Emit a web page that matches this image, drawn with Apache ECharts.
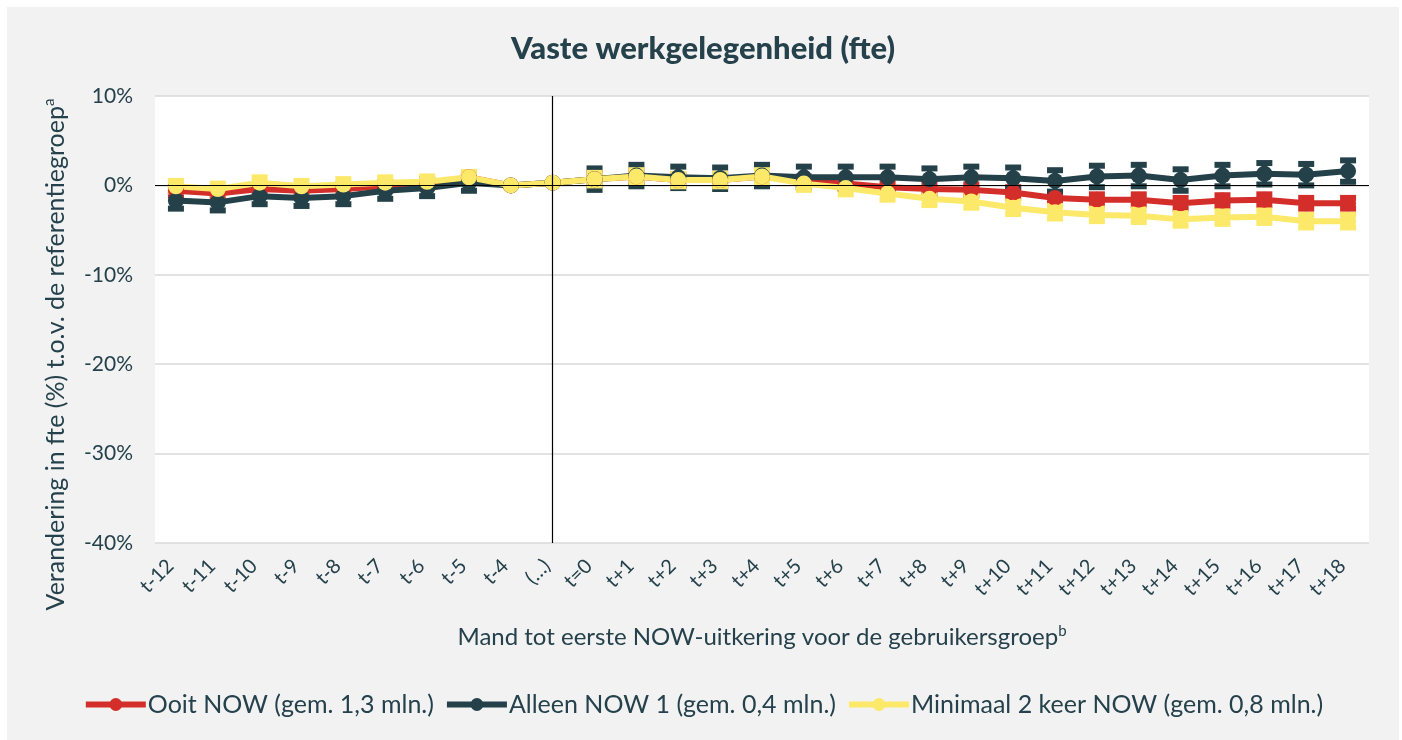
<!DOCTYPE html>
<html>
<head>
<meta charset="utf-8">
<script src="https://cdn.jsdelivr.net/npm/echarts@6/dist/echarts.min.js"></script>
<style>
  html, body { margin: 0; padding: 0; background: #ffffff; }
  #main { position: absolute; left: 7px; top: 7px; width: 1392px; height: 733px; background: #f2f2f2; }
</style>
</head>
<body>
<div id="main"></div>
<script>
// categorieën op de x-as
var maanden = ['t-12', 't-11', 't-10', 't-9', 't-8', 't-7', 't-6', 't-5', 't-4', '(\u2026)',
    't=0', 't+1', 't+2', 't+3', 't+4', 't+5', 't+6', 't+7', 't+8', 't+9', 't+10',
    't+11', 't+12', 't+13', 't+14', 't+15', 't+16', 't+17', 't+18'];

// verandering in fte (%) per groep
var ooitNow = [-0.6, -0.9, -0.4, -0.6, -0.4, -0.1, 0.2, 0.9, 0.0, 0.3,
    0.7, 1.0, 0.6, 0.6, 1.0, 0.4, 0.2, -0.2, -0.4, -0.5, -0.8,
    -1.4, -1.6, -1.6, -2.0, -1.7, -1.6, -2.0, -2.0];
var alleenNow1 = [-1.7, -1.9, -1.2, -1.4, -1.2, -0.6, -0.3, 0.3, 0.0, 0.3,
    0.7, 1.1, 0.9, 0.8, 1.1, 0.9, 0.9, 0.9, 0.7, 0.9, 0.8,
    0.5, 1.0, 1.1, 0.6, 1.1, 1.3, 1.2, 1.6];
var minimaal2 = [-0.1, -0.4, 0.3, -0.1, 0.1, 0.3, 0.4, 0.9, 0.0, 0.3,
    0.7, 1.0, 0.6, 0.6, 1.0, 0.2, -0.3, -0.9, -1.5, -1.8, -2.5,
    -3.0, -3.3, -3.4, -3.8, -3.6, -3.5, -4.0, -4.0];

// foutmarges (halve breedte van de foutbalk, in %-punt)
var margeOoit = [0.5, 0.5, 0.5, 0.5, 0.5, 0.5, 0.5, 0.5, 0, 0,
    0.6, 0.6, 0.6, 0.6, 0.6, 0.6, 0.6, 0.6, 0.6, 0.6, 0.6,
    0.6, 0.6, 0.6, 0.6, 0.6, 0.6, 0.6, 0.6];
var margeAlleen = [0.9, 0.9, 0.9, 0.9, 0.9, 0.9, 0.9, 0.9, 0, 0,
    1.2, 1.2, 1.2, 1.2, 1.2, 1.2, 1.2, 1.2, 1.2, 1.2, 1.2,
    1.2, 1.2, 1.2, 1.2, 1.2, 1.2, 1.2, 1.2];
var margeMinimaal = [0.6, 0.6, 0.6, 0.6, 0.6, 0.6, 0.6, 0.6, 0, 0,
    0.7, 0.7, 0.7, 0.7, 0.7, 0.7, 0.7, 0.7, 0.7, 0.7, 0.7,
    0.7, 0.7, 0.7, 0.7, 0.7, 0.7, 0.7, 0.7];

var tekstKleur = '#25414b';
var font = 'Lato, "Noto Sans", sans-serif';

function foutData(waarden, marge) {
    var out = [];
    for (var i = 0; i < waarden.length; i++) {
        if (marge[i] > 0) out.push([i, waarden[i] - marge[i], waarden[i] + marge[i]]);
    }
    return out;
}

function foutBalk(kleur) {
    return function (params, api) {
        var x = api.value(0);
        var lo = api.coord([x, api.value(1)]);
        var hi = api.coord([x, api.value(2)]);
        var w = 8;
        return {
            type: 'group',
            children: [
                { type: 'line', shape: { x1: lo[0], y1: lo[1], x2: hi[0], y2: hi[1] }, style: { stroke: kleur, lineWidth: 5 } },
                { type: 'line', shape: { x1: lo[0] - w, y1: lo[1], x2: lo[0] + w, y2: lo[1] }, style: { stroke: kleur, lineWidth: 6 } },
                { type: 'line', shape: { x1: hi[0] - w, y1: hi[1], x2: hi[0] + w, y2: hi[1] }, style: { stroke: kleur, lineWidth: 6 } }
            ]
        };
    };
}

function lijn(naam, data, kleur) {
    return {
        name: naam,
        type: 'line',
        data: data,
        color: kleur,
        symbol: 'circle',
        symbolSize: 16,
        lineStyle: { width: 6, color: kleur },
        itemStyle: { color: kleur },
        z: 3
    };
}

function fout(data, marge, kleur) {
    return {
        type: 'custom',
        renderItem: foutBalk(kleur),
        data: foutData(data, marge),
        encode: { x: 0, y: [1, 2] },
        silent: true,
        z: 3
    };
}

var chart = echarts.init(document.getElementById('main'));

var option = {
    animation: false,
    textStyle: { fontFamily: font, color: tekstKleur },
    title: {
        text: 'Vaste werkgelegenheid (fte)',
        left: 'center',
        top: 21,
        textStyle: { fontFamily: font, fontSize: 31, fontWeight: 900, color: tekstKleur }
    },
    legend: {
        data: ['Ooit NOW (gem. 1,3 mln.)', 'Alleen NOW 1 (gem. 0,4 mln.)', 'Minimaal 2 keer NOW (gem. 0,8 mln.)'],
        bottom: 18,
        left: 'center',
        itemWidth: 60,
        itemHeight: 16,
        itemGap: 10,
        lineStyle: { width: 6 },
        textStyle: { fontFamily: font, fontSize: 25, color: tekstKleur, padding: [0, 0, 0, -3] }
    },
    grid: {
        left: 148,
        right: 30,
        top: 89,
        bottom: 197,
        show: true,
        backgroundColor: '#ffffff',
        borderWidth: 0
    },
    xAxis: {
        type: 'category',
        data: maanden,
        boundaryGap: true,
        name: 'Mand tot eerste NOW-uitkering voor de gebruikersgroep{sup|b}',
        nameLocation: 'middle',
        nameGap: 81,
        nameTextStyle: {
            fontFamily: font, fontSize: 24, color: tekstKleur,
            rich: { sup: { fontFamily: font, fontSize: 15, color: tekstKleur, verticalAlign: 'top', padding: [0, 0, 12, 0] } }
        },
        axisLine: { show: false },
        axisTick: { show: false },
        axisLabel: { rotate: 45, fontSize: 20, color: tekstKleur, margin: 14, interval: 0, fontFamily: font, padding: [0, 8, 0, 0] }
    },
    yAxis: {
        type: 'value',
        min: -40,
        max: 10,
        interval: 10,
        name: 'Verandering in fte (%) t.o.v. de referentiegroep{sup|a}',
        nameLocation: 'middle',
        nameGap: 86,
        nameTextStyle: {
            fontFamily: font, fontSize: 25, color: tekstKleur,
            padding: [0, 70, 0, 0],
            rich: { sup: { fontFamily: font, fontSize: 15, color: tekstKleur, verticalAlign: 'top', padding: [0, 0, 12, 0] } }
        },
        axisLine: { show: false },
        axisTick: { show: false },
        axisLabel: { formatter: '{value}%', fontSize: 21, color: tekstKleur, margin: 22, fontFamily: font },
        splitLine: { lineStyle: { color: '#d9d9d9', width: 1.5 } }
    },
    series: [
        {
            type: 'line',
            data: [],
            silent: true,
            markLine: {
                symbol: 'none',
                silent: true,
                label: { show: false },
                lineStyle: { color: '#000000', width: 1.2, type: 'solid' },
                data: [{ yAxis: 0 }, { xAxis: '(\u2026)' }]
            },
            z: 2
        },
        fout(ooitNow, margeOoit, '#d42e2a'),
        lijn('Ooit NOW (gem. 1,3 mln.)', ooitNow, '#d42e2a'),
        fout(alleenNow1, margeAlleen, '#24414a'),
        lijn('Alleen NOW 1 (gem. 0,4 mln.)', alleenNow1, '#24414a'),
        fout(minimaal2, margeMinimaal, '#fce96a'),
        lijn('Minimaal 2 keer NOW (gem. 0,8 mln.)', minimaal2, '#fce96a')
    ]
};

chart.setOption(option);
</script>
</body>
</html>
